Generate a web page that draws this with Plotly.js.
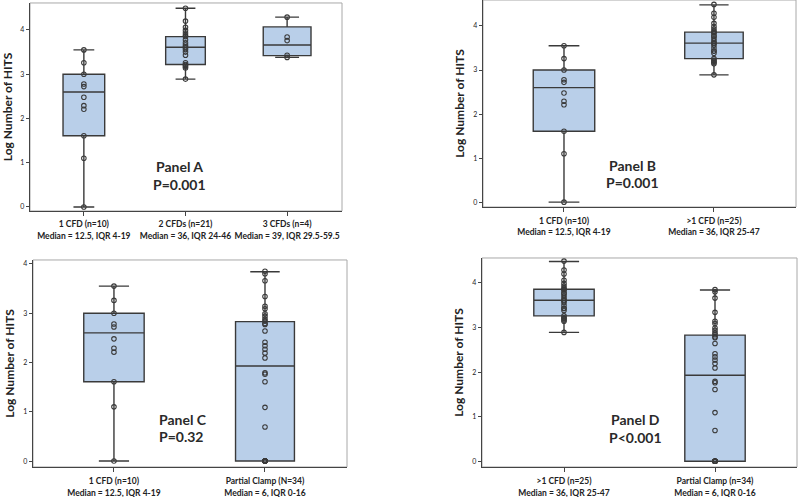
<!DOCTYPE html>
<html>
<head>
<meta charset="utf-8">
<script src="https://cdn.plot.ly/plotly-3.0.1.min.js"></script>
<style>html,body{margin:0;padding:0;background:#fff;}#chart{width:800px;height:497px;}</style>
</head>
<body>
<div id="chart"></div>
<script>
// ---- Categories (tick labels) ----
const catOne = "1 CFD (n=10)<br>Median = 12.5, IQR 4-19";
const catTwo = "2 CFDs (n=21)<br>Median = 36, IQR 24-46";
const catThree = "3 CFDs (n=4)<br>Median = 39, IQR 29.5-59.5";
const catMulti = ">1 CFD (n=25)<br>Median = 36, IQR 25-47";
const catClampC = "Partial Clamp (N=34)<br>Median = 6, IQR 0-16";
const catClampD = "Partial Clamp (n=34)<br>Median = 6, IQR 0-16";
const catOneD = ">1 CFD (n=25)<br>Median = 36, IQR 25-47";

// ---- Individual log values ----
const oneCFD = [0, 1.10, 1.61, 2.21, 2.29, 2.48, 2.72, 2.78, 3.00, 3.26, 3.55];
const twoCFD = [2.89, 3.14, 3.17, 3.20, 3.22, 3.26, 3.43, 3.50, 3.56, 3.60, 3.62, 3.66, 3.71, 3.78, 3.85, 3.88, 3.93, 3.99, 4.06, 4.20, 4.49];
const threeCFD = [3.38, 3.43, 3.76, 3.84, 4.29];
const multiCFD = twoCFD.concat(threeCFD);
const clamp = [0, 0, 0, 0, 0, 0, 0, 0, 0, 0, 0, 0.69, 1.09, 1.61, 1.76, 1.79, 2.09, 2.19, 2.27, 2.34, 2.41, 2.64, 2.77, 2.79, 2.84, 2.88, 2.94, 2.99, 3.09, 3.14, 3.34, 3.66, 3.80, 3.85];

// ---- Box summaries (log scale): [lowerfence, q1, median, q3, upperfence] ----
const statsOne = [0, 1.61, 2.60, 3.00, 3.55];
const statsTwo = [2.89, 3.22, 3.61, 3.85, 4.49];
const statsThree = [3.38, 3.42, 3.66, 4.07, 4.29];
const statsMulti = [2.89, 3.26, 3.61, 3.86, 4.48];
const statsClamp = [0, 0, 1.93, 2.83, 3.84];

const boxFill = '#b9cfe9';
const dark = '#3a3a3a';

function boxTrace(cat, s, w, xa, ya) {
  return {
    type: 'box', x: [cat], lowerfence: [s[0]], q1: [s[1]], median: [s[2]], q3: [s[3]], upperfence: [s[4]],
    width: w, whiskerwidth: 0.5, fillcolor: boxFill, line: {color: dark, width: 1.4},
    boxpoints: false, hoverinfo: 'skip', xaxis: xa, yaxis: ya, showlegend: false
  };
}
function ptsTrace(cat, vals, xa, ya) {
  return {
    type: 'scatter', mode: 'markers', x: vals.map(() => cat), y: vals,
    marker: {symbol: 'circle-open', size: 4.5, color: dark, line: {width: 1.1, color: dark}},
    xaxis: xa, yaxis: ya, showlegend: false, hoverinfo: 'skip'
  };
}

const data = [
  boxTrace(catOne, statsOne, 0.41, 'x', 'y'),
  boxTrace(catTwo, statsTwo, 0.39, 'x', 'y'),
  boxTrace(catThree, statsThree, 0.47, 'x', 'y'),
  ptsTrace(catOne, oneCFD, 'x', 'y'),
  ptsTrace(catTwo, twoCFD, 'x', 'y'),
  ptsTrace(catThree, threeCFD, 'x', 'y'),

  boxTrace(catOne, statsOne, 0.41, 'x2', 'y2'),
  boxTrace(catMulti, statsMulti, 0.39, 'x2', 'y2'),
  ptsTrace(catOne, oneCFD, 'x2', 'y2'),
  ptsTrace(catMulti, multiCFD, 'x2', 'y2'),

  boxTrace(catOne, statsOne, 0.40, 'x3', 'y3'),
  boxTrace(catClampC, statsClamp, 0.39, 'x3', 'y3'),
  ptsTrace(catOne, oneCFD, 'x3', 'y3'),
  ptsTrace(catClampC, clamp, 'x3', 'y3'),

  boxTrace(catOneD, statsMulti, 0.40, 'x4', 'y4'),
  boxTrace(catClampD, statsClamp, 0.40, 'x4', 'y4'),
  ptsTrace(catOneD, multiCFD, 'x4', 'y4'),
  ptsTrace(catClampD, clamp, 'x4', 'y4')
];

function xax(domain, range, anchor, standoff, fsize) {
  return {domain: domain, range: range, anchor: anchor, type: 'category', showline: true, linecolor: '#444', linewidth: 1.3,
    ticks: 'outside', ticklen: 4, tickcolor: '#444', tickangle: 0,
    tickfont: {family: 'Lato, "Open Sans", sans-serif', size: fsize, color: '#222', weight: 'bold'},
    ticklabelstandoff: standoff, showgrid: false, zeroline: false, fixedrange: true};
}
function yax(domain, range, anchor) {
  return {domain: domain, range: range, anchor: anchor, showline: true, linecolor: '#444', linewidth: 1.3,
    ticks: 'outside', ticklen: 3, tickcolor: '#444', tickvals: [0, 1, 2, 3, 4],
    tickfont: {family: 'Lato, sans-serif', size: 7, color: '#222'}, showgrid: false, zeroline: false,
    title: {text: 'Log Number of HITS', font: {family: 'Lato, "Open Sans", sans-serif', size: 12, color: '#222', weight: 'bold'}, standoff: 6},
    fixedrange: true};
}

function frame(xr, yr) {
  return {type: 'rect', xref: xr + ' domain', yref: yr + ' domain', x0: 0, x1: 1, y0: 0, y1: 1,
    line: {color: '#a8a8a8', width: 1}, layer: 'below'};
}
const panelFont = {family: 'Lato, "Open Sans", sans-serif', size: 14, color: '#2a2a2a', weight: 'bold'};
function note(text, x, y, anchor) {
  return {text: text, xref: 'paper', yref: 'paper', x: x, y: y, xanchor: anchor, yanchor: 'middle', showarrow: false, font: panelFont};
}

const layout = {
  width: 800, height: 497, margin: {l: 0, r: 0, t: 0, b: 0},
  paper_bgcolor: '#fff', plot_bgcolor: '#fff', showlegend: false,
  xaxis: xax([0.0375, 0.4275], [-0.53, 2.54], 'y', 1, 8.5),
  yaxis: yax([0.5755, 0.994], [-0.09, 4.61], 'x'),
  xaxis2: xax([0.60375, 0.995], [-0.54, 1.547], 'y2', 1, 8.5),
  yaxis2: yax([0.5835, 1.0], [-0.11, 4.59], 'x2'),
  xaxis3: xax([0.04125, 0.43375], [-0.536, 1.543], 'y3', 2, 8.5),
  yaxis3: yax([0.0604, 0.4769], [-0.12, 4.08], 'x3'),
  xaxis4: xax([0.6025, 0.99625], [-0.543, 1.543], 'y4', 2, 8.5),
  yaxis4: yax([0.0604, 0.4809], [-0.13, 4.56], 'x4'),
  shapes: [frame('x', 'y'), frame('x2', 'y2'), frame('x3', 'y3'), frame('x4', 'y4')],
  annotations: [
    note('Panel A', 0.2238, 0.664, 'center'), note('P=0.001', 0.2238, 0.628, 'center'),
    note('Panel B', 0.790, 0.668, 'center'), note('P=0.001', 0.790, 0.632, 'center'),
    note('Panel C', 0.196, 0.1563, 'left'), note('P=0.32', 0.196, 0.1214, 'left'),
    note('Panel D', 0.794, 0.1563, 'center'), note('P&lt;0.001', 0.794, 0.120, 'center')
  ]
};

Plotly.newPlot('chart', data, layout, {staticPlot: true, displayModeBar: false});
</script>
</body>
</html>
